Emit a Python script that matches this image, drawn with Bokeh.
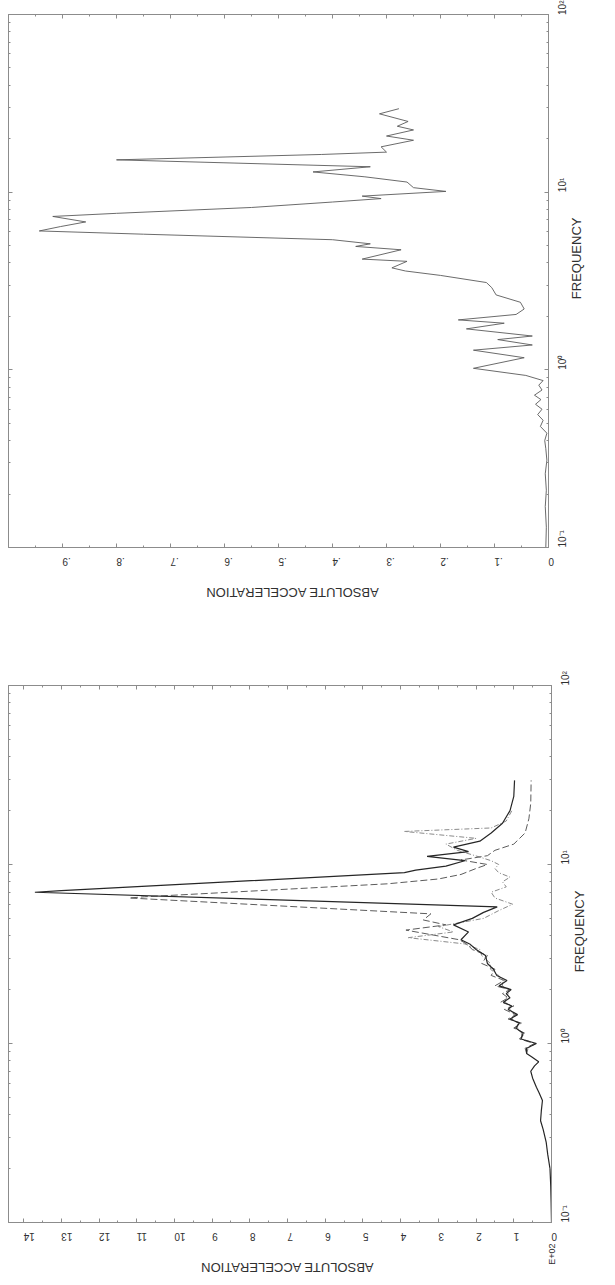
import math
from bokeh.plotting import figure
from bokeh.layouts import column
from bokeh.models import Range1d, FixedTicker, LinearAxis, LogAxis
from bokeh.embed import file_html
from bokeh.resources import INLINE

FONT = "Liberation Sans"

# ---------------- data ----------------
# tick values / labels
freq_major = [0.1, 1, 10, 100]
freq_minor = [0.2, 0.3, 0.4, 0.5, 0.6, 0.7, 0.8, 0.9,
              2, 3, 4, 5, 6, 7, 8, 9,
              20, 30, 40, 50, 60, 70, 80, 90]
freq_labels = ["10\u207b\u00b9", "10\u2070", "10\u00b9", "10\u00b2"]

up_ticks = [0, 0.1, 0.2, 0.3, 0.4, 0.5, 0.6, 0.7, 0.8, 0.9]
up_minor = [0.05, 0.15, 0.25, 0.35, 0.45, 0.55, 0.65, 0.75, 0.85, 0.95]
up_labels = ["0", ".1", ".2", ".3", ".4", ".5", ".6", ".7", ".8", ".9"]

low_ticks = [0, 1, 2, 3, 4, 5, 6, 7, 8, 9, 10, 11, 12, 13, 14]
low_minor = [0.5, 1.5, 2.5, 3.5, 4.5, 5.5, 6.5, 7.5, 8.5, 9.5, 10.5, 11.5, 12.5, 13.5]
low_labels = ["0", "1", "2", "3", "4", "5", "6", "7", "8", "9", "10", "11", "12", "13", "14"]

# upper chart: single response spectrum
up_freq = [0.10, 0.13, 0.17, 0.21, 0.26, 0.31, 0.36, 0.40, 0.44, 0.48,
           0.52, 0.56, 0.60, 0.64, 0.68, 0.72, 0.77, 0.82, 0.87, 0.93,
           1.02, 1.17, 1.29, 1.38, 1.48, 1.55, 1.70, 1.83, 1.91, 2.05,
           2.20, 2.40, 2.64, 2.90, 3.10, 3.40, 3.60, 3.75, 4.08, 4.20,
           4.74, 4.95, 5.12, 5.40, 5.80, 6.05, 6.40, 6.80, 7.30, 7.60,
           8.20, 8.80, 9.20, 9.50, 10.1, 10.6, 11.4, 12.2, 13.0, 13.9,
           15.2, 16.3, 16.8, 18.0, 19.6, 20.7, 22.4, 23.5, 25.0, 27.6, 29.5]
up_acc = [0.005, 0.004, 0.006, 0.004, 0.006, 0.003, 0.005, 0.007, 0.003, 0.015,
          0.010, 0.020, 0.012, 0.024, 0.014, 0.026, 0.012, 0.018, 0.010, 0.042,
          0.139, 0.045, 0.139, 0.030, 0.094, 0.030, 0.152, 0.082, 0.167, 0.060,
          0.045, 0.052, 0.097, 0.105, 0.115, 0.200, 0.265, 0.290, 0.262, 0.345,
          0.273, 0.357, 0.330, 0.400, 0.750, 0.943, 0.904, 0.857, 0.918, 0.800,
          0.550, 0.400, 0.310, 0.345, 0.190, 0.250, 0.262, 0.340, 0.436, 0.330,
          0.800, 0.420, 0.300, 0.310, 0.250, 0.300, 0.250, 0.280, 0.260, 0.313, 0.277]

# lower chart: three response spectra
lowA_freq = [0.10, 0.13, 0.16, 0.20, 0.24, 0.28, 0.33, 0.37, 0.42, 0.48,
             0.53, 0.57, 0.64, 0.70, 0.75, 0.79, 0.84, 0.88, 0.94, 1.00,
             1.06, 1.14, 1.22, 1.30, 1.37, 1.45, 1.55, 1.62, 1.70, 1.80,
             1.90, 2.00, 2.10, 2.25, 2.40, 2.60, 2.80, 3.10, 3.35, 3.60,
             3.80, 4.20, 4.60, 5.00, 5.40, 5.80, 7.00, 7.15, 9.00, 9.30,
             9.80, 10.5, 11.1, 11.8, 12.5, 13.5, 15.0, 17.0, 20.0, 24.0, 29.5]
lowA_acc = [0.00, 0.01, 0.02, 0.04, 0.10, 0.14, 0.22, 0.29, 0.27, 0.24,
            0.33, 0.40, 0.50, 0.55, 0.45, 0.34, 0.52, 0.66, 0.66, 0.40,
            0.81, 0.75, 0.95, 0.85, 1.10, 0.90, 1.15, 1.05, 1.28, 1.10,
            1.20, 1.07, 1.39, 1.18, 1.45, 1.54, 1.70, 1.75, 2.00, 2.17,
            2.40, 2.20, 2.60, 2.10, 1.80, 1.44, 13.7, 13.0, 3.90, 3.60,
            2.80, 2.30, 3.30, 2.20, 2.60, 1.90, 1.60, 1.30, 1.10, 1.00, 0.98]

lowB_freq = [0.88, 0.94, 1.00, 1.06, 1.14, 1.22, 1.30, 1.37, 1.45, 1.55,
             1.62, 1.70, 1.80, 1.90, 2.00, 2.10, 2.25, 2.40, 2.60, 2.80,
             3.10, 3.35, 3.60, 3.80, 4.30, 4.60, 4.90, 5.30, 6.50, 6.60,
             7.80, 8.30, 8.80, 9.50, 10.0, 10.6, 11.2, 12.0, 13.0, 15.0,
             18.0, 22.0, 29.5]
lowB_acc = [0.66, 0.70, 0.45, 0.85, 0.70, 1.00, 0.80, 1.15, 0.95, 1.25,
            1.00, 1.35, 1.15, 1.30, 1.10, 1.50, 1.25, 1.60, 1.50, 1.85,
            1.70, 2.10, 2.25, 2.45, 3.86, 2.80, 3.40, 3.20, 11.2, 10.8,
            4.35, 3.00, 2.40, 2.00, 1.70, 2.40, 1.70, 1.50, 1.00, 0.70,
            0.60, 0.55, 0.54]

lowC_freq = [0.88, 0.94, 1.00, 1.06, 1.14, 1.22, 1.30, 1.37, 1.45, 1.55,
             1.62, 1.70, 1.80, 1.90, 2.00, 2.10, 2.25, 2.40, 2.60, 2.80,
             3.10, 3.35, 3.60, 3.90, 4.20, 4.50, 5.00, 5.50, 6.00, 6.50,
             7.00, 7.50, 8.00, 8.50, 9.00, 9.50, 10.0, 10.5, 11.0, 12.0,
             13.0, 14.0, 15.3, 16.0, 17.5, 20.0]
lowC_acc = [0.66, 0.62, 0.42, 0.78, 0.80, 0.90, 0.90, 1.05, 1.00, 1.10,
            1.12, 1.22, 1.20, 1.15, 1.20, 1.30, 1.30, 1.40, 1.62, 1.62,
            1.85, 1.90, 2.30, 3.80, 2.60, 3.00, 1.80, 1.42, 1.03, 1.50,
            1.60, 1.20, 1.30, 1.10, 1.40, 1.50, 1.40, 1.60, 1.90, 2.50,
            2.80, 2.00, 3.90, 1.60, 1.20, 1.05]

TXT = "#303030"
AX = "#8c8c8c"


def style_axis(ax, show_labels, orient=None, standoff=8):
    ax.axis_line_color = AX
    ax.major_tick_line_color = AX
    ax.minor_tick_line_color = AX
    ax.major_tick_in = 4
    ax.major_tick_out = 0
    ax.minor_tick_in = 2
    ax.minor_tick_out = 0
    ax.major_label_text_font = FONT
    if show_labels:
        ax.major_label_text_color = TXT
        ax.major_label_text_font_size = "10px"
        ax.major_label_standoff = standoff
        if orient is not None:
            ax.major_label_orientation = orient
    else:
        ax.major_label_text_font_size = "1px"
        ax.major_label_text_alpha = 0
        ax.major_label_standoff = 0


def text_axis(cls, pos, text, orient, standoff, size):
    # an axis that only carries one text (used for titles in the rotated layout)
    ax = cls(ticker=FixedTicker(ticks=[pos], minor_ticks=[]))
    ax.major_label_overrides = {pos: text}
    ax.axis_line_color = None
    ax.major_tick_line_color = None
    ax.minor_tick_line_color = None
    ax.major_tick_in = 0
    ax.major_tick_out = 0
    ax.minor_tick_in = 0
    ax.minor_tick_out = 0
    ax.major_label_orientation = orient
    ax.major_label_standoff = standoff
    ax.major_label_text_font = FONT
    ax.major_label_text_font_size = size
    ax.major_label_text_color = TXT
    return ax


def make_fig(xmax, xticks, xminor, xlabels, fw, fh, top, left, right, bottom):
    p = figure(frame_width=fw, frame_height=fh,
               x_range=Range1d(xmax, 0), y_range=Range1d(0.1, 100),
               y_axis_type="log", y_axis_location="right",
               output_backend="svg", toolbar_location=None,
               min_border_top=top, min_border_left=left,
               min_border_right=right, min_border_bottom=bottom)
    p.grid.visible = False
    p.outline_line_color = AX
    p.background_fill_color = "white"
    p.border_fill_color = "white"

    xt = FixedTicker(ticks=xticks, minor_ticks=xminor)
    yt = FixedTicker(ticks=freq_major, minor_ticks=freq_minor)

    xa = p.xaxis[0]
    xa.ticker = xt
    xa.major_label_overrides = {t: l for t, l in zip(xticks, xlabels)}
    style_axis(xa, True, math.pi, 14)

    ya = p.yaxis[0]
    ya.ticker = yt
    ya.major_label_overrides = {t: l for t, l in zip(freq_major, freq_labels)}
    style_axis(ya, True, math.pi / 2, 14)

    top_ax = LinearAxis(ticker=xt)
    style_axis(top_ax, False)
    p.add_layout(top_ax, "above")
    left_ax = LogAxis(ticker=yt)
    style_axis(left_ax, False)
    p.add_layout(left_ax, "left")
    return p


# ---------- upper chart ----------
p1 = make_fig(1.0, up_ticks, up_minor, up_labels, 540, 533, 14, 7, 52, 60)
p1.line(up_acc, up_freq, line_color="#5a5a5a", line_width=0.9)
p1.add_layout(text_axis(LinearAxis, 0.635, "ABSOLUTE ACCELERATION", math.pi, 20, "13px"), "below")
p1.add_layout(text_axis(LogAxis, 2.5, "FREQUENCY", math.pi / 2, 0, "13px"), "right")

# ---------- lower chart ----------
p2 = make_fig(14.4, low_ticks, low_minor, low_labels, 543, 537, 75, 8, 52, 60)
p2.line(lowC_acc, lowC_freq, line_color="#8a8a8a", line_width=1.0, line_dash="5 2 1 2")
p2.line(lowB_acc, lowB_freq, line_color="#5c5c5c", line_width=1.0, line_dash="7 3")
p2.line(lowA_acc, lowA_freq, line_color="#262626", line_width=1.2)
p2.add_layout(text_axis(LinearAxis, 0, "E+02", math.pi / 2, -4, "9px"), "below")
p2.add_layout(text_axis(LinearAxis, 9.31, "ABSOLUTE ACCELERATION", math.pi, 0, "13px"), "below")
p2.add_layout(text_axis(LogAxis, 2.5, "FREQUENCY", math.pi / 2, 0, "13px"), "right")

layout = column(p1, p2, spacing=0)
open("out.html", "w").write(file_html(layout, INLINE))
